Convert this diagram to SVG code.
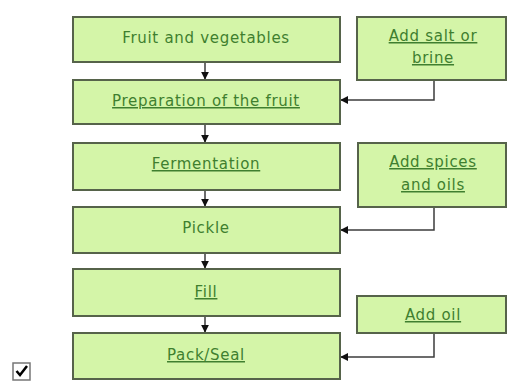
<svg xmlns="http://www.w3.org/2000/svg" width="507" height="381" viewBox="0 0 507 381">
<defs>
<style>
.box{fill:#d4f5a8;stroke:#56634a;stroke-width:2}
.t{font-family:"DejaVu Sans",Verdana,sans-serif;font-size:15px;letter-spacing:0.7px;fill:#3f7f2f;text-anchor:middle}
.u{text-decoration:underline}
.c{fill:none;stroke:#3d3d3d;stroke-width:1.5}
</style>
<marker id="ah" viewBox="0 0 10 10" refX="9" refY="5" markerWidth="8" markerHeight="8" markerUnits="userSpaceOnUse" orient="auto">
<path d="M0,0 L10,5 L0,10 Z" fill="#111"/>
</marker>
</defs>
<rect width="507" height="381" fill="#fff"/>
<g id="connectors">
<line class="c" x1="205" y1="62" x2="205" y2="79" marker-end="url(#ah)"/>
<line class="c" x1="205" y1="124" x2="205" y2="142" marker-end="url(#ah)"/>
<line class="c" x1="205" y1="190" x2="205" y2="206" marker-end="url(#ah)"/>
<line class="c" x1="205" y1="253" x2="205" y2="268" marker-end="url(#ah)"/>
<line class="c" x1="205" y1="316" x2="205" y2="332" marker-end="url(#ah)"/>
<polyline class="c" points="434,80 434,100 341,100" marker-end="url(#ah)"/>
<polyline class="c" points="434,207 434,230 341,230" marker-end="url(#ah)"/>
<polyline class="c" points="434,333 434,357 341,357" marker-end="url(#ah)"/>
</g>
<g id="n1"><rect class="box" x="73" y="17" width="267" height="45"/><text class="t" x="206" y="43">Fruit and vegetables</text></g>
<g id="n2"><rect class="box" x="73" y="80" width="267" height="44"/><text class="t u" x="206" y="106">Preparation of the fruit</text></g>
<g id="n3"><rect class="box" x="73" y="143" width="267" height="47"/><text class="t u" x="206" y="169">Fermentation</text></g>
<g id="n4"><rect class="box" x="73" y="207" width="267" height="46"/><text class="t" x="206" y="233">Pickle</text></g>
<g id="n5"><rect class="box" x="73" y="269" width="267" height="47"/><text class="t u" x="206" y="297">Fill</text></g>
<g id="n6"><rect class="box" x="73" y="333" width="267" height="46"/><text class="t u" x="206" y="360">Pack/Seal</text></g>
<g id="r1"><rect class="box" x="357" y="17" width="149" height="63"/><text class="t u" x="433" y="41">Add salt or</text><text class="t u" x="433" y="63">brine</text></g>
<g id="r2"><rect class="box" x="358" y="143" width="148" height="64"/><text class="t u" x="433" y="167">Add spices</text><text class="t u" x="433" y="190">and oils</text></g>
<g id="r3"><rect class="box" x="357" y="296" width="149" height="37"/><text class="t u" x="433" y="320">Add oil</text></g>
<g id="checkbox">
<rect x="13" y="363" width="17" height="17" fill="#fff" stroke="#777" stroke-width="1.5"/>
<path d="M16.5,371 L20,375 L27,366" fill="none" stroke="#000" stroke-width="2.5"/>
</g>
</svg>
